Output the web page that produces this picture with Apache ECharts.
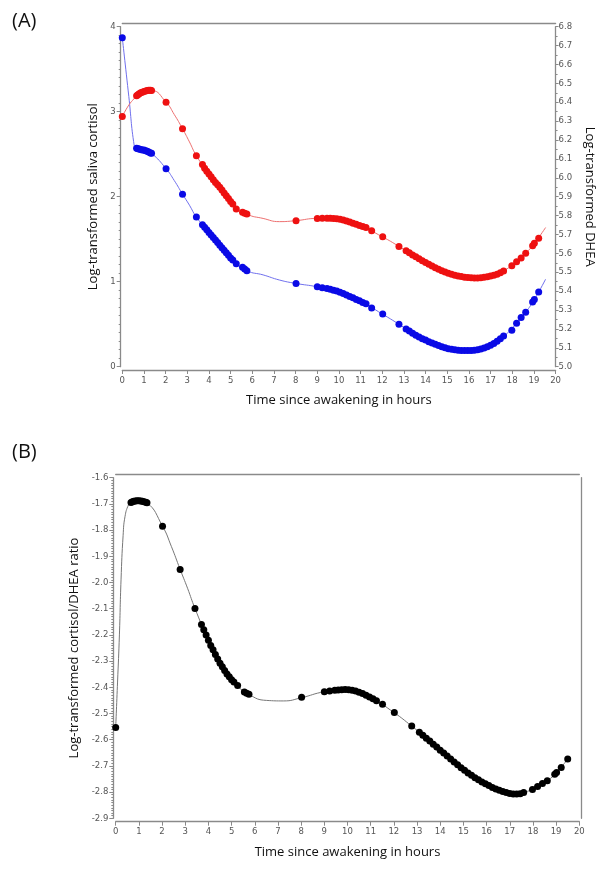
<!DOCTYPE html>
<html><head><meta charset="utf-8">
<script src="https://cdn.jsdelivr.net/npm/echarts@6/dist/echarts.min.js"></script>
<style>html,body{margin:0;padding:0;background:#fff}#c{width:604px;height:874px}</style>
</head><body><div id="c"></div><script>
// sample times (hours since awakening)
const sampleHours = [0, 0.66, 0.72, 0.78, 0.85, 0.92, 1.0, 1.08, 1.15, 1.22, 1.3, 1.35, 2.02, 2.78, 3.42,
  3.7, 3.8, 3.9, 4.0, 4.1, 4.2, 4.3, 4.4, 4.5, 4.6, 4.7, 4.8, 4.9, 5.0, 5.1, 5.26, 5.55, 5.65, 5.75,
  8.02, 9.0, 9.23, 9.45, 9.6, 9.75, 9.9, 10.05, 10.2, 10.35, 10.5, 10.65, 10.8, 10.95, 11.1, 11.25,
  11.51, 12.02, 12.77, 13.1, 13.25, 13.4, 13.55, 13.7, 13.85, 14.0, 14.15, 14.3, 14.45, 14.6, 14.75,
  14.9, 15.05, 15.2, 15.35, 15.5, 15.65, 15.8, 15.95, 16.1, 16.25, 16.4, 16.55, 16.7, 16.85, 17.0,
  17.15, 17.3, 17.45, 17.6, 17.98, 18.2, 18.41, 18.62, 18.94, 19.02, 19.22];
const cortisol = [3.87,
  2.57, 2.565, 2.56, 2.555, 2.55, 2.55, 2.54, 2.535, 2.525, 2.515, 2.51,
  2.33, 2.03, 1.76,
  1.67, 1.64, 1.61, 1.58, 1.55, 1.52, 1.49, 1.46, 1.43, 1.40, 1.37, 1.34, 1.31, 1.28, 1.255,
  1.21, 1.17, 1.15, 1.13,
  0.98, 0.94, 0.93,
  0.92, 0.91, 0.90, 0.89, 0.875, 0.86, 0.845, 0.825, 0.81, 0.79, 0.775, 0.755, 0.74,
  0.69, 0.62, 0.50,
  0.445, 0.42, 0.395, 0.37, 0.35, 0.33, 0.314, 0.295, 0.28, 0.265, 0.25, 0.235, 0.222, 0.212, 0.205,
  0.199, 0.195, 0.192, 0.19, 0.19, 0.191, 0.195, 0.20, 0.208, 0.22, 0.235, 0.252, 0.272, 0.30, 0.33, 0.36,
  0.43, 0.51, 0.58, 0.64, 0.76, 0.79, 0.88];
const dhea = [6.325,
  6.435, 6.44, 6.445, 6.45, 6.453, 6.457, 6.46, 6.462, 6.463, 6.463, 6.462,
  6.40, 6.26, 6.117,
  6.07, 6.05, 6.035, 6.02, 6.005, 5.99, 5.975, 5.963, 5.95, 5.935, 5.92, 5.905, 5.89, 5.875, 5.861,
  5.835, 5.818, 5.812, 5.808,
  5.773, 5.785, 5.786,
  5.786, 5.786, 5.785, 5.783, 5.78, 5.776, 5.771, 5.766, 5.76, 5.754, 5.748, 5.742, 5.737,
  5.72, 5.688, 5.637,
  5.614, 5.603, 5.592, 5.582, 5.572, 5.561, 5.551, 5.542, 5.533, 5.524, 5.516, 5.508, 5.501, 5.495, 5.489,
  5.484, 5.48, 5.477, 5.474, 5.472, 5.471, 5.47, 5.47, 5.471, 5.473, 5.476, 5.48, 5.484, 5.49, 5.497, 5.506,
  5.535, 5.555, 5.575, 5.60, 5.64, 5.653, 5.68];
const ratioHours = sampleHours.concat([19.5]);
const ratio = [-2.553,
  -1.695, -1.692, -1.69, -1.689, -1.688, -1.688, -1.689, -1.69, -1.692, -1.694, -1.696,
  -1.785, -1.95, -2.099,
  -2.16, -2.18, -2.20, -2.22, -2.24, -2.257, -2.275, -2.292, -2.308, -2.322, -2.336, -2.349, -2.36, -2.371, -2.38,
  -2.393, -2.418, -2.423, -2.427,
  -2.438, -2.417, -2.414,
  -2.411, -2.41, -2.409, -2.408, -2.409, -2.411, -2.414, -2.419, -2.424, -2.43, -2.437, -2.444, -2.451,
  -2.465, -2.496, -2.548,
  -2.572, -2.583, -2.594, -2.605, -2.617, -2.628, -2.64, -2.651, -2.662, -2.674, -2.685, -2.696, -2.707, -2.717, -2.727,
  -2.736, -2.745, -2.753, -2.761, -2.768, -2.775, -2.782, -2.788, -2.793, -2.798, -2.802, -2.805, -2.807, -2.807, -2.806, -2.802,
  -2.79, -2.779, -2.767, -2.757, -2.732, -2.725, -2.706, -2.674];

// fitted curves
const curveHours = [0, 0.3, 0.55, 0.66, 1.0, 1.35, 2.02, 2.4, 2.78, 3.1, 3.42, 4.0, 4.5, 5.1, 5.75, 6.5, 7.25, 8.0,
  9.0, 10.0, 11.0, 12.0, 12.77, 13.5, 14.25, 15.0, 15.75, 16.5, 17.25, 17.67, 18.2, 18.62, 19.02, 19.54];
const cortisolCurve = [3.87, 3.18, 2.60, 2.57, 2.55, 2.51, 2.33, 2.19, 2.03, 1.90, 1.76, 1.58, 1.43, 1.255, 1.13, 1.08, 1.02, 0.98,
  0.94, 0.88, 0.77, 0.62, 0.50, 0.38, 0.29, 0.215, 0.19, 0.205, 0.285, 0.37, 0.51, 0.64, 0.79, 1.03];
const dheaCurve = [6.325, 6.385, 6.42, 6.435, 6.457, 6.462, 6.40, 6.335, 6.26, 6.19, 6.117, 6.02, 5.95, 5.861, 5.808, 5.785, 5.768, 5.773,
  5.785, 5.78, 5.745, 5.688, 5.637, 5.585, 5.54, 5.50, 5.478, 5.47, 5.488, 5.512, 5.555, 5.60, 5.653, 5.737];
const ratioCurveHours = [0, 0.08, 0.16, 0.23, 0.32, 0.4, 0.55, 0.66, 1.0, 1.35, 2.02, 2.4, 2.78, 3.1, 3.42, 4.0, 4.5, 5.1, 5.75,
  6.5, 7.25, 8.0, 9.0, 10.0, 11.0, 12.0, 12.77, 13.5, 14.25, 15.0, 15.75, 16.5, 17.25, 17.67, 18.2, 18.62, 19.02, 19.5];
const ratioCurve = [-2.553, -2.38, -2.2, -1.99, -1.82, -1.749, -1.704, -1.695, -1.688, -1.696, -1.785, -1.862, -1.95, -2.022, -2.099,
  -2.22, -2.308, -2.38, -2.427, -2.45, -2.452, -2.44, -2.417, -2.409, -2.44, -2.496, -2.548, -2.60, -2.657, -2.717,
  -2.757, -2.79, -2.807, -2.80, -2.779, -2.757, -2.725, -2.674];

const xTitle = 'Time since awakening in hours';
const cortisolTitle = 'Log-transformed saliva cortisol';
const dheaTitle = 'Log-transformed DHEA';
const ratioTitle = 'Log-transformed cortisol/DHEA ratio';

const pair = (xs, ys) => xs.map((x, i) => [x, ys[i]]);
const AX = '#8a8a8a';
const LBL = {color: '#555', fontSize: 8.5, fontFamily: 'DejaVu Sans'};
const NAME = {color: '#111', fontSize: 13, fontFamily: 'Open Sans'};
const frameAxis = (extra) => Object.assign({
  type: 'value', axisLine: {show: true, lineStyle: {color: AX, width: 1.3}},
  axisTick: {show: false}, axisLabel: {show: false}, splitLine: {show: false}
}, extra);

const chart = echarts.init(document.getElementById('c'), null, {renderer: 'canvas'});
chart.setOption({
  backgroundColor: '#fff',
  animation: false,
  title: [
    {text: '(A)', left: 7, top: 6, textStyle: {fontSize: 20, fontWeight: 'normal', color: '#111', fontFamily: 'Open Sans'}},
    {text: '(B)', left: 7, top: 437, textStyle: {fontSize: 20, fontWeight: 'normal', color: '#111', fontFamily: 'Open Sans'}}
  ],
  grid: [
    {left: 122.3, top: 26.7, width: 435, height: 340, containLabel: false},
    {left: 115.7, top: 477.7, width: 463.6, height: 340.6, containLabel: false}
  ],
  xAxis: [
    {type: 'value', gridIndex: 0, min: 0, max: 20, interval: 1, position: 'bottom', offset: 3.3,
      axisLine: {show: true, onZero: false, lineStyle: {color: AX, width: 1.3}},
      axisTick: {show: true, length: 4, lineStyle: {color: AX}},
      axisLabel: Object.assign({margin: 6}, LBL), splitLine: {show: false},
      name: xTitle, nameLocation: 'middle', nameGap: 24, nameTextStyle: NAME},
    frameAxis({gridIndex: 0, min: 0, max: 20, position: 'top', offset: 3.7, axisLine: {show: true, onZero: false, lineStyle: {color: AX, width: 1.3}}}),
    {type: 'value', gridIndex: 1, min: 0, max: 20, interval: 1, position: 'bottom', offset: 3.4,
      axisLine: {show: true, onZero: false, lineStyle: {color: AX, width: 1.3}},
      axisTick: {show: true, length: 4, lineStyle: {color: AX}},
      axisLabel: Object.assign({margin: 6}, LBL), splitLine: {show: false},
      name: xTitle, nameLocation: 'middle', nameGap: 24, nameTextStyle: NAME},
    frameAxis({gridIndex: 1, min: 0, max: 20, position: 'top', offset: 3.4, axisLine: {show: true, onZero: false, lineStyle: {color: AX, width: 1.3}}})
  ],
  yAxis: [
    {type: 'value', gridIndex: 0, min: 0, max: 4, interval: 1, position: 'left', offset: 1.6,
      axisLine: {show: true, onZero: false, lineStyle: {color: AX, width: 1.3}},
      axisTick: {show: true, length: 4, lineStyle: {color: AX}},
      minorTick: {show: true, splitNumber: 10, length: 2, lineStyle: {color: AX}},
      axisLabel: Object.assign({margin: 5}, LBL), splitLine: {show: false}, minorSplitLine: {show: false},
      name: cortisolTitle, nameLocation: 'middle', nameGap: 21, nameRotate: 90, nameTextStyle: NAME},
    {type: 'value', gridIndex: 0, min: 5.0, max: 6.8, interval: 0.1, position: 'right', offset: 0,
      axisLine: {show: true, onZero: false, lineStyle: {color: AX, width: 1.3}},
      axisTick: {show: true, length: 3, lineStyle: {color: AX}},
      minorTick: {show: true, splitNumber: 2, length: 2, lineStyle: {color: AX}},
      axisLabel: Object.assign({margin: 3, formatter: v => v.toFixed(1)}, LBL), splitLine: {show: false}, minorSplitLine: {show: false},
      name: dheaTitle, nameLocation: 'middle', nameGap: 23, nameRotate: -90, nameTextStyle: NAME},
    {type: 'value', gridIndex: 1, min: -2.9, max: -1.6, interval: 0.1, position: 'left', offset: 2.4,
      axisLine: {show: true, onZero: false, lineStyle: {color: AX, width: 1.3}},
      axisTick: {show: true, length: 4, lineStyle: {color: AX}},
      minorTick: {show: true, splitNumber: 10, length: 2, lineStyle: {color: AX}},
      axisLabel: Object.assign({margin: 5, formatter: v => v.toFixed(1)}, LBL), splitLine: {show: false}, minorSplitLine: {show: false},
      name: ratioTitle, nameLocation: 'middle', nameGap: 29, nameRotate: 90, nameTextStyle: NAME},
    frameAxis({gridIndex: 1, min: -2.9, max: -1.6, position: 'right', offset: 1.7, axisLine: {show: true, onZero: false, lineStyle: {color: AX, width: 1.3}}})
  ],
  series: [
    {type: 'line', xAxisIndex: 0, yAxisIndex: 0, data: pair(curveHours, cortisolCurve), smooth: 0.5,
      showSymbol: false, lineStyle: {color: '#7070ee', width: 1}, z: 2, silent: true},
    {type: 'line', xAxisIndex: 0, yAxisIndex: 1, data: pair(curveHours, dheaCurve), smooth: 0.5,
      showSymbol: false, lineStyle: {color: '#ee7070', width: 1}, z: 2, silent: true},
    {type: 'scatter', xAxisIndex: 0, yAxisIndex: 0, data: pair(sampleHours, cortisol), symbolSize: 7,
      itemStyle: {color: '#0a0ae6', opacity: 1}, z: 3},
    {type: 'scatter', xAxisIndex: 0, yAxisIndex: 1, data: pair(sampleHours, dhea), symbolSize: 7,
      itemStyle: {color: '#ee1111', opacity: 1}, z: 3},
    {type: 'line', xAxisIndex: 2, yAxisIndex: 2, data: pair(ratioCurveHours, ratioCurve), smooth: 0.5,
      showSymbol: false, lineStyle: {color: '#777', width: 1}, z: 2, silent: true},
    {type: 'scatter', xAxisIndex: 2, yAxisIndex: 2, data: pair(ratioHours, ratio), symbolSize: 7,
      itemStyle: {color: '#000', opacity: 1}, z: 3}
  ]
});
</script></body></html>
